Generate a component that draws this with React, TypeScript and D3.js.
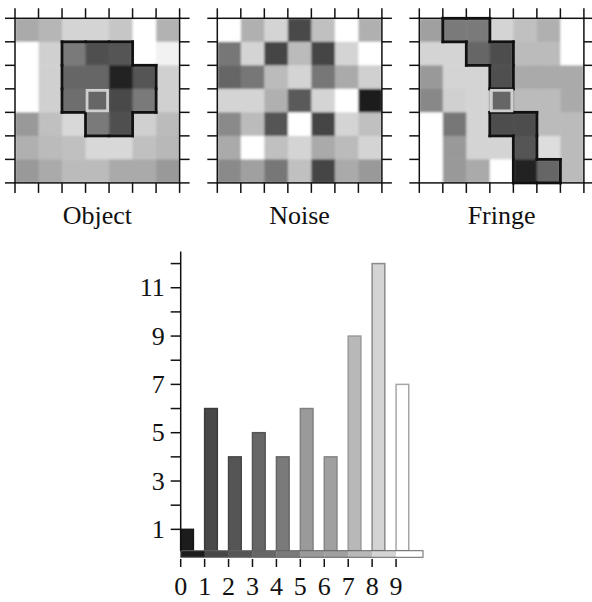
import React from "react";
import * as d3 from "d3";

// ---------- data ----------
const panelTitles = ["Object", "Noise", "Fringe"];

// gray levels (0-255), rows top -> bottom
const objectCells = [
  [170, 182, 212, 212, 198, 255, 178],
  [255, 208, 122, 80, 85, 255, 242],
  [255, 208, 102, 102, 34, 85, 208],
  [255, 208, 110, 102, 74, 122, 208],
  [153, 192, 216, 122, 80, 208, 187],
  [176, 187, 192, 216, 216, 192, 184],
  [153, 170, 187, 187, 170, 170, 153],
];
const noiseCells = [
  [255, 176, 212, 74, 192, 255, 176],
  [119, 212, 68, 187, 68, 212, 255],
  [102, 119, 187, 212, 119, 170, 208],
  [212, 212, 176, 90, 212, 255, 26],
  [138, 187, 85, 255, 68, 212, 192],
  [170, 255, 192, 212, 170, 187, 212],
  [138, 160, 119, 192, 68, 170, 153],
];
const fringeCells = [
  [160, 122, 122, 212, 192, 176, 255],
  [212, 212, 102, 77, 187, 187, 255],
  [153, 212, 212, 80, 170, 170, 170],
  [136, 208, 212, 102, 187, 187, 170],
  [255, 119, 212, 77, 77, 187, 187],
  [255, 153, 212, 212, 85, 221, 187],
  [255, 153, 170, 255, 34, 102, 187],
];
const panelCells = [objectCells, noiseCells, fringeCells];

// outlined regions as [row, col] cells
const objectRegions = [
  [[1, 2], [1, 3], [1, 4], [2, 2], [2, 3], [2, 4], [2, 5], [3, 2], [3, 3], [3, 4], [3, 5], [4, 3], [4, 4]],
];
const noiseRegions: number[][][] = [];
const fringeRegions = [
  [[0, 1], [0, 2], [1, 2], [1, 3], [2, 3]],
  [[4, 3], [4, 4], [5, 4], [6, 4], [6, 5]],
];
const panelRegions = [objectRegions, noiseRegions, fringeRegions];
const panelHighlight = [true, false, true];
const highlightCell = [3, 3];

// histogram
const histBins = [0, 1, 2, 3, 4, 5, 6, 7, 8, 9];
const histCounts = [1, 6, 4, 5, 4, 6, 4, 9, 12, 7];
const histGrays = [28, 72, 85, 102, 122, 154, 160, 184, 212, 255];
const yTickValues = [1, 2, 3, 4, 5, 6, 7, 8, 9, 10, 11, 12];
const yLabelValues = [1, 3, 5, 7, 9, 11];

// ---------- layout ----------
const W = 592;
const H = 602;
const gridLeft = [15, 217.3, 419.3];
const gridTop = 18.3;
const gridSize = 164.6;
const N = 7;
const FONT = "'Liberation Serif', 'Times New Roman', Times, serif";

const gray = (v: number) => d3.rgb(v, v, v).formatHex();

function Panel({ idx }: { idx: number }) {
  const x = d3.scaleLinear().domain([0, N]).range([gridLeft[idx], gridLeft[idx] + gridSize]);
  const y = d3.scaleLinear().domain([0, N]).range([gridTop, gridTop + gridSize]);
  const cells = panelCells[idx];
  const regions = panelRegions[idx];
  const ticks = d3.range(N + 1);
  const tl = 10;

  const edges: { x1: number; y1: number; x2: number; y2: number }[] = [];
  regions.forEach((reg) => {
    const has = (r: number, c: number) => reg.some((p) => p[0] === r && p[1] === c);
    reg.forEach(([r, c]) => {
      if (!has(r - 1, c)) edges.push({ x1: c, y1: r, x2: c + 1, y2: r });
      if (!has(r + 1, c)) edges.push({ x1: c, y1: r + 1, x2: c + 1, y2: r + 1 });
      if (!has(r, c - 1)) edges.push({ x1: c, y1: r, x2: c, y2: r + 1 });
      if (!has(r, c + 1)) edges.push({ x1: c + 1, y1: r, x2: c + 1, y2: r + 1 });
    });
  });

  const cw = x(1) - x(0);
  return (
    <g>
      <clipPath id={`clip${idx}`}>
        <rect x={x(0)} y={y(0)} width={gridSize} height={gridSize} />
      </clipPath>
      <g clipPath={`url(#clip${idx})`}>
        <g filter="url(#soft)">
          {cells.map((row, r) =>
            row.map((v, c) => (
              <rect key={`${r}-${c}`} x={x(c)} y={y(r)} width={cw + 0.5} height={cw + 0.5} fill={gray(v)} />
            ))
          )}
        </g>
      </g>
      {edges.map((e, i) => (
        <line key={i} x1={x(e.x1)} y1={y(e.y1)} x2={x(e.x2)} y2={y(e.y2)} stroke="#111" strokeWidth={2.8} strokeLinecap="square" />
      ))}
      {panelHighlight[idx] && (
        <rect
          x={x(highlightCell[1]) + 1.5}
          y={y(highlightCell[0]) + 1.5}
          width={cw - 3}
          height={cw - 3}
          fill="none"
          stroke="#cfcfcf"
          strokeWidth={2.8}
        />
      )}
      <rect x={x(0)} y={y(0)} width={gridSize} height={gridSize} fill="none" stroke="#111" strokeWidth={1.5} />
      {ticks.map((t) => (
        <g key={t} stroke="#111" strokeWidth={1.5}>
          <line x1={x(t)} x2={x(t)} y1={y(0) - tl} y2={y(0)} />
          <line x1={x(t)} x2={x(t)} y1={y(N)} y2={y(N) + tl} />
          <line x1={x(0) - tl} x2={x(0)} y1={y(t)} y2={y(t)} />
          <line x1={x(N)} x2={x(N) + tl} y1={y(t)} y2={y(t)} />
        </g>
      ))}
      <text
        x={(x(0) + x(N)) / 2}
        y={224}
        textAnchor="middle"
        fontFamily={FONT}
        fontSize={26}
        fill="#111"
      >
        {panelTitles[idx]}
      </text>
    </g>
  );
}

function Histogram() {
  const x = d3.scaleLinear().domain([0, 10]).range([180.7, 420]);
  const y = d3.scaleLinear().domain([0, 12.5]).range([553.5, 251.5]);
  const barW = (x(1) - x(0)) * 0.53;
  const stripTop = 550.7;
  const stripBot = 557.3;
  return (
    <g>
      {histBins.map((b, i) => {
        const fill = gray(histGrays[i]);
        const stroke = d3.rgb(fill).darker(histGrays[i] > 200 ? 1.2 : 0.5).formatHex();
        return (
          <rect
            key={b}
            x={x(b)}
            y={y(histCounts[i])}
            width={barW}
            height={stripTop - y(histCounts[i])}
            fill={fill}
            stroke={stroke}
            strokeWidth={1.5}
          />
        );
      })}
      {histBins.map((b, i) => (
        <rect
          key={`s${b}`}
          x={x(b)}
          y={stripTop}
          width={x(b + 1) - x(b) + 0.3}
          height={stripBot - stripTop}
          fill={gray(histGrays[i])}
        />
      ))}
      <rect x={x(0)} y={stripTop} width={x(10) - x(0) + 3} height={stripBot - stripTop} fill="none" stroke="#666" strokeWidth={1} />
      <line x1={x(0)} x2={x(0)} y1={y(12.5)} y2={stripTop} stroke="#111" strokeWidth={1.5} />
      {yTickValues.map((t) => (
        <line key={t} x1={x(0) - 10} x2={x(0)} y1={y(t)} y2={y(t)} stroke="#111" strokeWidth={1.5} />
      ))}
      {yLabelValues.map((t) => (
        <text
          key={t}
          x={x(0) - 16}
          y={y(t)}
          dy="0.33em"
          textAnchor="end"
          fontFamily={FONT}
          fontSize={26}
          fill="#111"
        >
          {t}
        </text>
      ))}
      {histBins.map((b) => (
        <g key={`xt${b}`}>
          <line x1={x(b)} x2={x(b)} y1={559} y2={567} stroke="#111" strokeWidth={1.5} />
          <text x={x(b)} y={595} textAnchor="middle" fontFamily={FONT} fontSize={26} fill="#111">
            {b}
          </text>
        </g>
      ))}
    </g>
  );
}

export default function App() {
  return (
    <svg
      width={W}
      height={H}
      viewBox={`0 0 ${W} ${H}`}
      style={{ position: "absolute", left: 0, top: 0, display: "block", background: "#fff" }}
    >
      <defs>
        <filter id="soft" x="-5%" y="-5%" width="110%" height="110%">
          <feGaussianBlur stdDeviation={0.8} />
        </filter>
      </defs>
      <rect width={W} height={H} fill="#fff" />
      {[0, 1, 2].map((i) => (
        <Panel key={i} idx={i} />
      ))}
      <Histogram />
    </svg>
  );
}
